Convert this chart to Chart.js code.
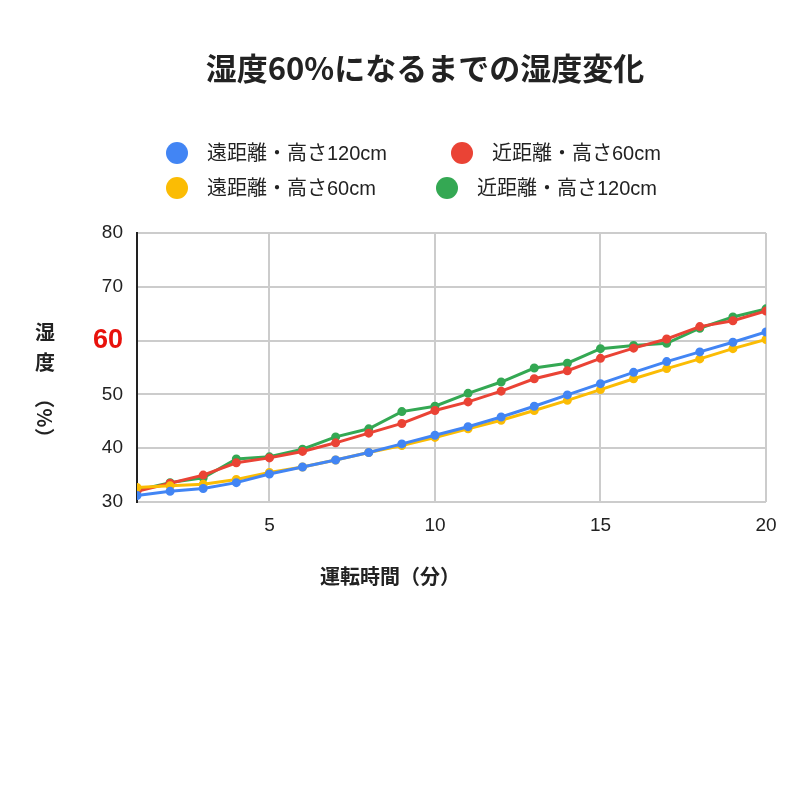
<!DOCTYPE html>
<html lang="ja">
<head>
<meta charset="UTF-8">
<script src="https://cdn.jsdelivr.net/npm/chart.js"></script>
<style>
  html, body { margin: 0; background: #fff; }
  #wrap { width: 800px; height: 800px; }
</style>
</head>
<body>
<div id="wrap"><canvas id="c" width="800" height="800"></canvas></div>
<script>
const minutes = [1,2,3,4,5,6,7,8,9,10,11,12,13,14,15,16,17,18,19,20];
const farHigh = [31.2,32,32.5,33.6,35.2,36.5,37.8,39.2,40.8,42.4,44,45.8,47.8,49.9,52,54.1,56.1,57.9,59.7,61.6];
const nearLow = [32,33.5,35,37.3,38.2,39.4,41,42.8,44.6,47,48.6,50.6,52.9,54.4,56.7,58.6,60.3,62.6,63.7,65.5];
const farLow = [32.7,33,33.3,34.2,35.5,36.5,37.8,39.2,40.5,42,43.6,45.2,47,48.9,50.9,52.9,54.8,56.6,58.5,60.2];
const nearHigh = [32.2,33.6,34.5,38,38.4,39.8,42.1,43.6,46.8,47.8,50.2,52.3,54.9,55.8,58.5,59.1,59.5,62.3,64.4,65.9];
const xTicks = [5, 10, 15, 20];
const seriesNames = ['遠距離・高さ120cm','近距離・高さ60cm','遠距離・高さ60cm','近距離・高さ120cm'];
const seriesColors = ['#4285f4','#ea4335','#fbbc04','#34a853'];
const seriesData = [farHigh, nearLow, farLow, nearHigh];
const FONT = '"Liberation Sans", "Noto Sans CJK JP", sans-serif';
const JFONT = '"Noto Sans CJK JP", sans-serif';

const datasets = seriesData.map((d, i) => ({
  label: seriesNames[i],
  data: d.map((v, j) => ({ x: minutes[j], y: v })),
  borderColor: seriesColors[i],
  backgroundColor: seriesColors[i],
  borderWidth: 3,
  pointRadius: 3,
  tension: 0
}));
// red/green drawn over blue/yellow
const order = [0, 2, 1, 3];

const decor = {
  id: 'decor',
  afterDraw(chart) {
    const ctx = chart.ctx;
    ctx.save();
    ctx.fillStyle = '#222';
    ctx.textBaseline = 'middle';
    ctx.textAlign = 'center';
    ctx.font = 'bold 31px ' + JFONT;
    ctx.fillText('湿度60%になるまでの湿度変化', 425, 68);
    // legend
    const pos = [[177, 153], [462, 153], [177, 188], [447, 188]];
    ctx.font = '20px ' + FONT;
    ctx.textAlign = 'left';
    pos.forEach((p, i) => {
      ctx.fillStyle = seriesColors[i];
      ctx.beginPath(); ctx.arc(p[0], p[1], 11, 0, Math.PI * 2); ctx.fill();
      ctx.fillStyle = '#222';
      ctx.fillText(seriesNames[i], p[0] + 30, p[1] + 1);
    });
    // axis titles
    ctx.textAlign = 'center';
    ctx.font = 'bold 20px ' + JFONT;
    ctx.fillText('運転時間（分）', 390, 576);
    ctx.fillText('湿', 45, 332);
    ctx.fillText('度', 45, 362);
    ctx.translate(45, 418);
    ctx.rotate(Math.PI / 2);
    ctx.fillText('（%）', 0, 0);
    ctx.restore();
  }
};

new Chart(document.getElementById('c'), {
  type: 'line',
  data: { datasets: order.map(i => datasets[i]) },
  options: {
    responsive: false,
    animation: false,
    layout: { padding: { left: 70, right: 34, top: 233, bottom: 258 } },
    plugins: { legend: { display: false }, tooltip: { enabled: false } },
    scales: {
      x: {
        type: 'linear', min: 1, max: 20,
        afterBuildTicks: s => { s.ticks = xTicks.map(v => ({ value: v })); },
        afterFit: s => { s.height = 40; },
        grid: { color: '#cccccc', lineWidth: 2, drawTicks: false },
        border: { display: false },
        ticks: { color: '#222', font: { size: 19, family: FONT }, padding: 12 }
      },
      y: {
        min: 30, max: 80,
        afterFit: s => { s.width = 67; },
        grid: { color: '#cccccc', lineWidth: 2, drawTicks: false },
        border: { color: '#222', width: 2 },
        ticks: {
          stepSize: 10, padding: 14,
          color: c => c.tick.value === 60 ? '#e8120c' : '#222',
          font: c => c.tick && c.tick.value === 60
            ? { size: 27, weight: 'bold', family: FONT }
            : { size: 19, family: FONT }
        }
      }
    }
  },
  plugins: [decor]
});
</script>
</body>
</html>
